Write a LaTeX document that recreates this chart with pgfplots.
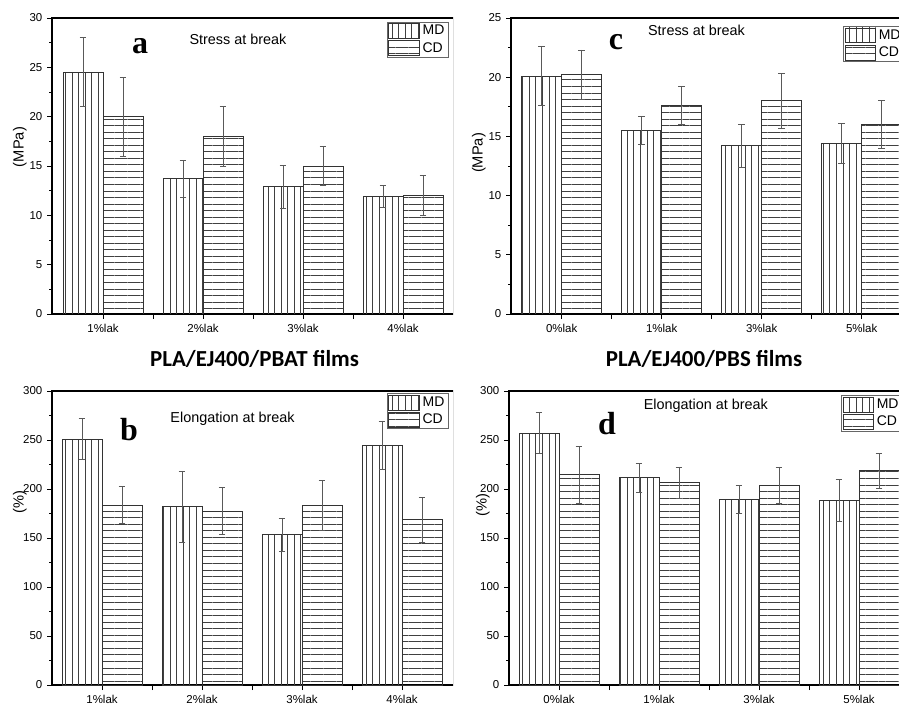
\documentclass[border=0pt]{standalone}
\usepackage{fontspec}
\setmainfont{Liberation Sans}
\newfontfamily\titlefont{Carlito}
\newfontfamily\letterfont{Liberation Serif}
\usepackage{pgfplots}
\pgfplotsset{compat=1.18}
\usetikzlibrary{patterns.meta}

\tikzset{
  mdpat/.style={pattern={Lines[angle=90,distance=4.9pt,line width=0.45pt]}, pattern color=black!75, draw=black!80, line width=0.6pt},
  cdpat/.style={pattern={Lines[angle=0,distance=4.9pt,line width=0.45pt]}, pattern color=black!75, draw=black!80, line width=0.6pt},
}

\pgfplotsset{
  panel/.style={
    scale only axis, width=301.5pt,
    ybar, bar width=0.4,
    ymin=0,
    xtick={0,1,2,3}, extra x ticks={0.5,1.5,2.5}, extra x tick labels={},
    tick align=outside, tick pos=left,
    major tick length=3.75pt, minor tick length=1.9pt, minor y tick num=1,
    axis line style={black, line width=0.9pt},
    every tick/.style={black, line width=0.7pt},
    tick label style={font=\fontsize{8.6}{10}\selectfont, black},
    /pgf/number format/assume math mode=true,
    label style={font=\fontsize{11}{13}\selectfont},
    legend style={anchor=north west, draw=black!60, fill=white,
      font=\fontsize{10.5}{12}\selectfont, inner xsep=1pt, inner ysep=0.5pt,
      row sep=0pt, cells={anchor=west}},
    legend image code/.code={\draw[##1] (0pt,-5.6pt) rectangle (23pt,5.6pt);},
  },
  md/.style={bar shift=-0.2, mdpat,
    error bars/.cd, y dir=both, y explicit,
    error bar style={line width=0.6pt, black!65},
    error mark options={rotate=90, mark size=2.5pt, line width=0.6pt, black!65}},
  cd/.style={bar shift=0.2, cdpat,
    error bars/.cd, y dir=both, y explicit,
    error bar style={line width=0.6pt, black!65},
    error mark options={rotate=90, mark size=2.5pt, line width=0.6pt, black!65}},
}

\begin{document}
\begin{tikzpicture}
\path[use as bounding box, clip] (0,0) rectangle (674.25pt,530.25pt);

\begin{scope}
\clip (0,0) rectangle (339.75pt,530.25pt);
% panel a
\begin{axis}[panel, at={(39pt,294.75pt)}, anchor=south west, height=222pt,
  xmin=-0.51, xmax=3.51, ymax=30, ytick distance=5,
  xticklabels={1\%lak,2\%lak,3\%lak,4\%lak},
  ylabel={(MPa)}, ylabel style={at={(axis description cs:-0.08,0.564)}, anchor=center},
  legend style={at={(axis description cs:0.833,0.9875)}}]
\addplot[md] coordinates {(0,24.5) +- (0,3.5) (1,13.7) +- (0,1.9) (2,12.9) +- (0,2.2) (3,11.9) +- (0,1.1)};
\addplot[cd] coordinates {(0,20.0) +- (0,4.0) (1,18.0) +- (0,3.0) (2,15.0) +- (0,2.0) (3,12.0) +- (0,2.0)};
\legend{MD,CD}
\end{axis}
% panel b
\begin{axis}[panel, at={(39pt,16.5pt)}, anchor=south west, height=220.5pt,
  xmin=-0.5, xmax=3.52, ymax=300, ytick distance=50,
  xticklabels={1\%lak,2\%lak,3\%lak,4\%lak},
  ylabel={(\%)}, ylabel style={at={(axis description cs:-0.08,0.622)}, anchor=center},
  legend style={at={(axis description cs:0.833,0.993)}}]
\addplot[md] coordinates {(0,251) +- (0,21) (1,182) +- (0,36) (2,153.5) +- (0,17) (3,244.5) +- (0,24.5)};
\addplot[cd] coordinates {(0,183.5) +- (0,19) (1,177.5) +- (0,24) (2,183.5) +- (0,25.5) (3,168.5) +- (0,23)};
\legend{MD,CD}
\end{axis}
\end{scope}

% panel c
\begin{axis}[panel, at={(383.25pt,294.75pt)}, anchor=south west, height=222pt,
  xmin=-0.507, xmax=3.513, ymax=25, ytick distance=5,
  xticklabels={0\%lak,1\%lak,3\%lak,5\%lak},
  ylabel={(MPa)}, ylabel style={at={(axis description cs:-0.08,0.544)}, anchor=center},
  legend style={at={(axis description cs:0.826,0.973)}}]
\addplot[md] coordinates {(0,20.1) +- (0,2.5) (1,15.5) +- (0,1.2) (2,14.2) +- (0,1.8) (3,14.4) +- (0,1.7)};
\addplot[cd] coordinates {(0,20.2) +- (0,2.1) (1,17.6) +- (0,1.6) (2,18.0) +- (0,2.3) (3,16.0) +- (0,2.0)};
\legend{MD,CD}
\end{axis}
% panel d
\begin{axis}[panel, at={(381.75pt,16.5pt)}, anchor=south west, height=220.5pt,
  xmin=-0.5, xmax=3.52, ymax=300, ytick distance=50,
  xticklabels={0\%lak,1\%lak,3\%lak,5\%lak},
  ylabel={(\%)}, ylabel style={at={(axis description cs:-0.065,0.612)}, anchor=center},
  legend style={at={(axis description cs:0.826,0.986)}}]
\addplot[md] coordinates {(0,257) +- (0,21) (1,211.5) +- (0,14.5) (2,189.5) +- (0,14) (3,188) +- (0,21.5)};
\addplot[cd] coordinates {(0,214.5) +- (0,29) (1,206.5) +- (0,16) (2,204) +- (0,18.5) (3,218.5) +- (0,17.5)};
\legend{MD,CD}
\end{axis}

% annotations
\node[anchor=base, inner sep=0, font=\letterfont\bfseries\fontsize{24}{24}\selectfont] at (105pt,490.3pt) {a};
\node[anchor=base, inner sep=0, font=\letterfont\bfseries\fontsize{24}{24}\selectfont] at (96.75pt,199.7pt) {b};
\node[anchor=base, inner sep=0, font=\letterfont\bfseries\fontsize{24}{24}\selectfont] at (462pt,492.75pt) {c};
\node[anchor=base, inner sep=0, font=\letterfont\bfseries\fontsize{24}{24}\selectfont] at (455.25pt,204pt) {d};
\node[anchor=base, inner sep=0, font=\fontsize{10.8}{12}\selectfont] at (178.5pt,496.5pt) {Stress at break};
\node[anchor=base, inner sep=0, font=\fontsize{10.8}{12}\selectfont] at (522.4pt,503.25pt) {Stress at break};
\node[anchor=base, inner sep=0, font=\fontsize{10.8}{12}\selectfont] at (174.4pt,213.2pt) {Elongation at break};
\node[anchor=base, inner sep=0, font=\fontsize{10.8}{12}\selectfont] at (529.4pt,223.3pt) {Elongation at break};
\node[anchor=base, inner sep=0, font=\titlefont\bfseries\fontsize{17.2}{20}\selectfont] at (190.9pt,255pt) {PLA/EJ400/PBAT films};
\node[anchor=base, inner sep=0, font=\titlefont\bfseries\fontsize{17.2}{20}\selectfont] at (528pt,255pt) {PLA/EJ400/PBS films};
\end{tikzpicture}
\end{document}
